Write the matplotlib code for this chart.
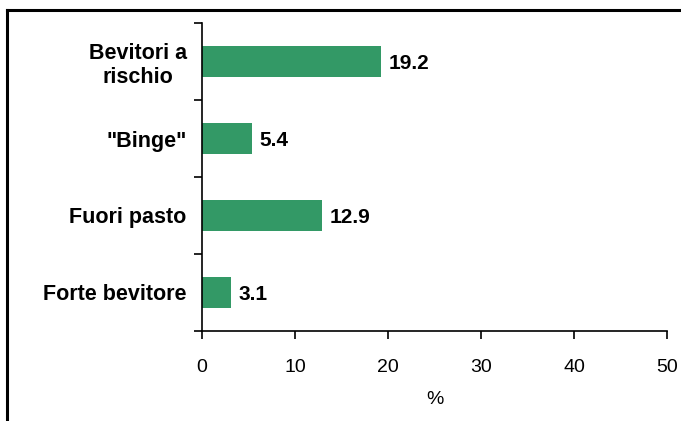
import matplotlib
matplotlib.use("Agg")
import matplotlib.pyplot as plt
from matplotlib.lines import Line2D

categories = ["Bevitori a\nrischio", '"Binge"', "Fuori pasto", "Forte bevitore"]
values = [19.2, 5.4, 12.9, 3.1]
value_labels = ["19.2", "5.4", "12.9", "3.1"]
xticks = [0, 10, 20, 30, 40, 50]

plt.rcParams['font.family'] = ['Liberation Sans', 'DejaVu Sans']

fig = plt.figure(figsize=(6.81, 4.21), dpi=100)
ax = fig.add_axes([202/681, 1 - 331/421, (667 - 202)/681, (331 - 23)/421])

n = len(categories)
ypos = [n - 1 - i for i in range(n)]
ax.barh(ypos, values, height=0.4, color="#339966")
for y, v, lab in zip(ypos, values, value_labels):
    ax.annotate(lab, (v, y), xytext=(5.5, 0), textcoords="offset points",
                va="center_baseline", ha="left", fontsize=15, fontweight="bold")

ax.set_xlim(0, 50)
ax.set_ylim(-0.5, n - 0.5)
ax.set_xticks(xticks)
ax.set_xticklabels([str(t) for t in xticks], fontsize=14)
ax.set_yticks(ypos)
ax.set_yticklabels(categories, fontsize=15.5, fontweight="bold", ha="right",
                   multialignment="center", linespacing=1.2)
ax.tick_params(axis="y", which="major", length=0, pad=11)
ax.set_yticks([i - 0.5 for i in range(n + 1)], minor=True)
ax.tick_params(axis="y", which="minor", length=6, width=1.2, direction="out")
ax.tick_params(axis="x", length=6, width=1.2, direction="out", pad=14)
ax.set_xlabel("%", fontsize=14, labelpad=11)

for s in ["top", "right"]:
    ax.spines[s].set_visible(False)
for s in ["left", "bottom"]:
    ax.spines[s].set_linewidth(1.2)

# figure frame (top and left edges)
fig.add_artist(Line2D([7/681, 1.0], [1 - 10/421, 1 - 10/421], transform=fig.transFigure,
                      color="black", lw=2.2, solid_capstyle="projecting"))
fig.add_artist(Line2D([7/681, 7/681], [0, 1 - 10/421], transform=fig.transFigure,
                      color="black", lw=2.2, solid_capstyle="projecting"))

fig.savefig("out.png", dpi=100)
